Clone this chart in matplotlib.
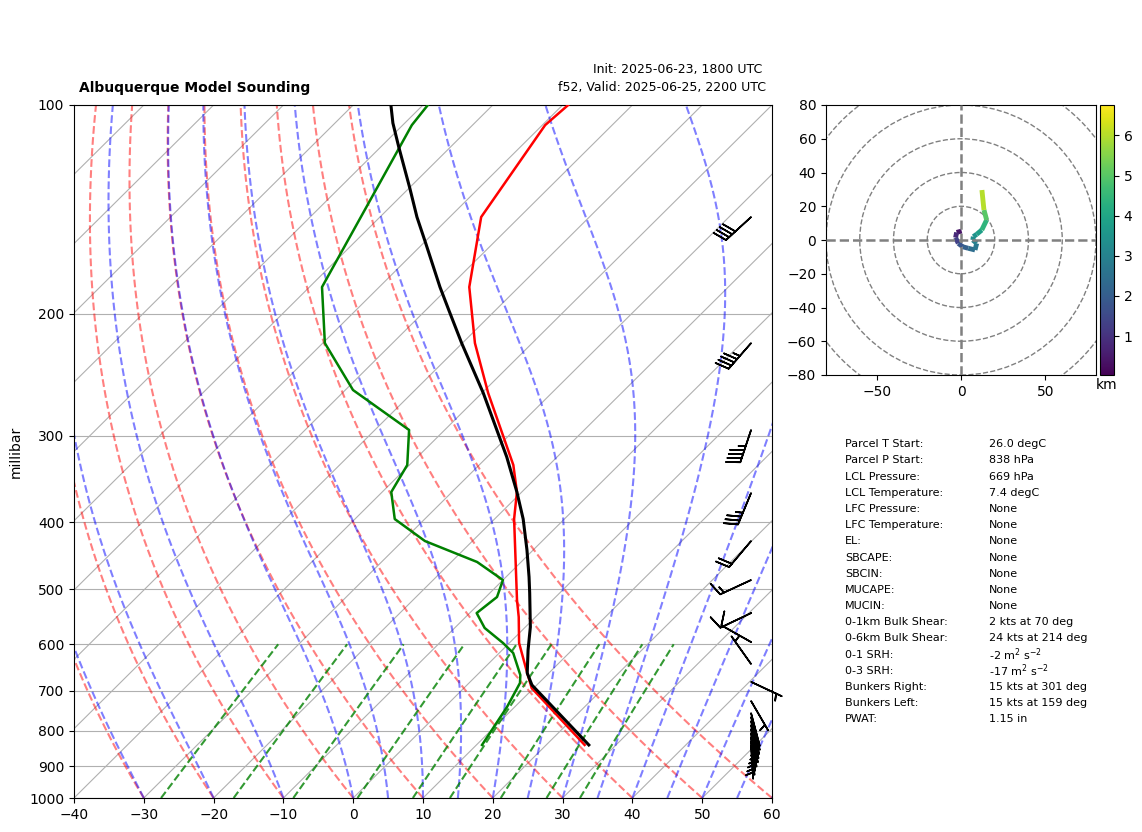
import numpy as np
import matplotlib
matplotlib.use('Agg')
import matplotlib.pyplot as plt
from matplotlib.collections import LineCollection
from matplotlib.patches import Circle

W, H = 1142, 832
SKEW = 100.  # degC of x shift per decade of pressure

# sounding
p_t = [100, 106.9, 145.1, 183.1, 220.6, 260.4, 330.8, 361.8, 395.8, 518, 548.1, 597.5, 660.2, 693.9, 838.4]
t = [-69.2, -69.6, -65.5, -57.1, -48.2, -39.1, -25.1, -20.7, -17.2, -5.1, -2.4, 1.4, 6.9, 9.7, 25.5]

p_td = [100, 106.9, 183.1, 220.6, 257.8, 294.4, 330.8, 361.8, 395.8, 425.8, 456.5, 484.7, 512.8, 540.9,
        568.4, 597.5, 617.7, 664.6, 682.4, 739, 838.4]
td = [-89.3, -88.7, -78.2, -69.7, -58.9, -45.1, -40.3, -38.7, -34.3, -26.8, -16.3, -10, -8.4, -9,
      -5.7, -0.9, 2, 6.2, 7.3, 8.9, 10.8]

p_parcel = [100, 106.2, 115, 131.8, 145.1, 158.2, 183.1, 197.7, 220.6, 260.4, 322.1, 361.8, 395.8, 438.6,
            479.8, 506, 566.5, 611.6, 660.2, 687, 838.4]
t_parcel = [-94.6, -91.7, -87.4, -79.9, -74.7, -69.7, -61.3, -56.7, -50.1, -39.8, -27.2, -20.7, -15.9, -10.9,
            -6.7, -4.3, 0.7, 3.7, 6.9, 9.3, 26.1]

# wind barbs
p_barb = [145.1, 220.6, 294.4, 363, 425.8, 484.7, 540.9, 595.6, 640.7, 679.9, 724.5,
          754.2, 764.2, 774.4, 784.8, 795.2, 805.9, 816.7, 827.6, 838.4]
u_barb = [29.4, 29.6, 14.2, 13.4, 12.9, 13.6, 9, 8.7, 2.9, -4.5, -2.5,
          -1.3, -1.3, -1.2, -1.1, -1, -0.8, -0.6, -0.5, -0.3]
v_barb = [27, 33.9, 42.7, 32.3, 15.3, 6.3, 4.3, -4.9, -4.1, 2.1, 4.3,
          4.9, 4.9, 4.9, 4.9, 4.9, 4.9, 4.9, 4.9, 4.9]

# hodograph
hodo_u = [0.4, -2.6, -3.2, -1.6, 1, 4.3, 8.3, 9.3, 7, 7.3, 9.3, 12.3, 15.2, 13.6, 12.4]
hodo_v = [5.3, 4.5, 1.4, -2, -4, -4.9, -5.9, -2, 0, 2, 3.4, 5.9, 11.9, 17.8, 29.6]
hodo_z = [0.4, 0.8, 1.3, 1.8, 2.1, 2.4, 2.7, 3, 3.3, 3.5, 3.8, 4.4, 5, 6, 6.76]

stat_names = ['Parcel T Start:', 'Parcel P Start:', 'LCL Pressure:', 'LCL Temperature:', 'LFC Pressure:',
              'LFC Temperature:', 'EL:', 'SBCAPE:', 'SBCIN:', 'MUCAPE:', 'MUCIN:', '0-1km Bulk Shear:',
              '0-6km Bulk Shear:', '0-1 SRH:', '0-3 SRH:', 'Bunkers Right:', 'Bunkers Left:', 'PWAT:']
stat_values = ['26.0 degC', '838 hPa', '669 hPa', '7.4 degC', 'None', 'None', 'None', 'None', 'None', 'None',
               'None', '2 kts at 70 deg', '24 kts at 214 deg', r'-2 m$^{2}$ s$^{-2}$', r'-17 m$^{2}$ s$^{-2}$',
               '15 kts at 301 deg', '15 kts at 159 deg', '1.15 in']

isotherms = np.arange(-150, 70, 10)
dry_t0 = np.arange(-40, 70, 10)
moist_t0 = np.concatenate((np.arange(-40, 0, 10), np.arange(0, 65, 5)))
mix_w = [0.0004, 0.001, 0.002, 0.004, 0.007, 0.01, 0.016, 0.024, 0.032]
p_ticks = np.arange(100, 1100, 100)


def skew(temp, pres):
  return np.asarray(temp) + SKEW * np.log10(1000. / np.asarray(pres))


def moist_lapse(t0, pres):
  # pres runs from 1000 down, simple RK4 in ln(p)
  Rd, Cp, Lv, eps = 287.05, 1005., 2.501e6, 0.622

  def slope(T, pp):
    es = 6.112 * np.exp(17.67 * (T - 273.15) / (T - 29.65))
    rs = eps * es / (pp - es)
    return (Rd * T + Lv * rs) / (Cp + Lv ** 2 * rs * eps / (Rd * T ** 2))

  out = [t0 + 273.15]
  for i in range(len(pres) - 1):
    T = out[-1]
    h = np.log(pres[i + 1] / pres[i])
    pm = np.sqrt(pres[i] * pres[i + 1])
    k1 = slope(T, pres[i])
    k2 = slope(T + h / 2 * k1, pm)
    k3 = slope(T + h / 2 * k2, pm)
    k4 = slope(T + h * k3, pres[i + 1])
    out.append(T + h / 6 * (k1 + 2 * k2 + 2 * k3 + k4))
  return np.array(out) - 273.15


def box(x0, y0, x1, y1):
  return [x0 / W, 1 - y1 / H, (x1 - x0) / W, (y1 - y0) / H]


fig = plt.figure(figsize=(W / 100, H / 100), dpi=100)

ax = fig.add_axes(box(74, 105, 772, 798))
ax.set_yscale('log')
ax.set_ylim(1000, 100)
ax.set_xlim(-40, 60)
ax.set_yticks(p_ticks)
ax.set_yticklabels([str(i) for i in p_ticks])
ax.yaxis.set_minor_locator(matplotlib.ticker.NullLocator())
ax.set_xticks(np.arange(-40, 70, 10))
ax.set_ylabel('millibar')
ax.yaxis.set_label_coords(-0.0735, 0.5)
ax.grid(True, axis='y', zorder=1)

pres = np.geomspace(1000, 100, 60)
for temp in isotherms:
  ax.plot(skew([temp, temp], [1000, 100]), [1000, 100], color='#b0b0b0', lw=0.8, zorder=1)
for temp in dry_t0:
  ax.plot(skew((temp + 273.15) * (pres / 1000) ** 0.2857 - 273.15, pres), pres, 'r--', alpha=0.5, lw=1.5, zorder=2)
for temp in moist_t0:
  ax.plot(skew(moist_lapse(temp, pres), pres), pres, 'b--', alpha=0.5, lw=1.5, zorder=2)
pres_w = np.linspace(1000, 600, 20)
for w in mix_w:
  e = pres_w * w / (0.622 + w)
  val = np.log(e / 6.112)
  dew = 243.5 * val / (17.67 - val)
  ax.plot(skew(dew, pres_w), pres_w, 'g--', alpha=0.8, lw=1.5, zorder=2)

ax.plot(skew(t, p_t), p_t, 'r', lw=1.8, zorder=4)
ax.plot(skew(td, p_td), p_td, 'g', lw=1.8, zorder=4)
ax.plot(skew(t_parcel, p_parcel), p_parcel, 'k', lw=2.2, zorder=5)

ax.barbs(np.full(len(p_barb), 0.97), p_barb, u_barb, v_barb, transform=ax.get_yaxis_transform(),
         length=7, linewidth=1.2, color='k', clip_on=False, zorder=6)

# hodograph
ax2 = fig.add_axes(box(826, 105, 1096, 375))
ax2.set_xlim(-80, 80)
ax2.set_ylim(-80, 80)
ax2.set_xticks([-50, 0, 50])
ax2.set_yticks(np.arange(-80, 100, 20))
for r in [20, 40, 60, 80, 100]:
  ax2.add_patch(Circle((0, 0), r, fill=False, ec='gray', ls='--', lw=1, zorder=2))
ax2.axhline(0, color='gray', ls='--', lw=1.8, zorder=4)
ax2.axvline(0, color='gray', ls='--', lw=1.8, zorder=4)

pts = np.column_stack((hodo_u, hodo_v)).reshape(-1, 1, 2)
segs = np.concatenate((pts[:-1], pts[1:]), axis=1)
lc = LineCollection(segs, cmap='viridis', array=np.array(hodo_z[:-1]), lw=3.5, zorder=3)
lc.set_clim(0.03, 6.76)
ax2.add_collection(lc)

cax = fig.add_axes(box(1100, 105, 1114, 375))
fig.colorbar(lc, cax=cax, ticks=[1, 2, 3, 4, 5, 6])
cax.set_xlabel('km', labelpad=2)

# titles and parcel table
fig.text(79 / W, 1 - 88 / H, 'Albuquerque Model Sounding', fontweight='bold', fontsize=10, va='center')
fig.text(762 / W, 1 - 70 / H, 'Init: 2025-06-23, 1800 UTC', fontsize=9, ha='right', va='center')
fig.text(766 / W, 1 - 88 / H, 'f52, Valid: 2025-06-25, 2200 UTC', fontsize=9, ha='right', va='center')

for i, (name, val) in enumerate(zip(stat_names, stat_values)):
  y = 1 - (444.3 + i * 16.18) / H
  fig.text(845 / W, y, name, fontsize=8, va='center')
  fig.text(989 / W, y, val, fontsize=8, va='center')

plt.savefig('out.png', dpi=100)
